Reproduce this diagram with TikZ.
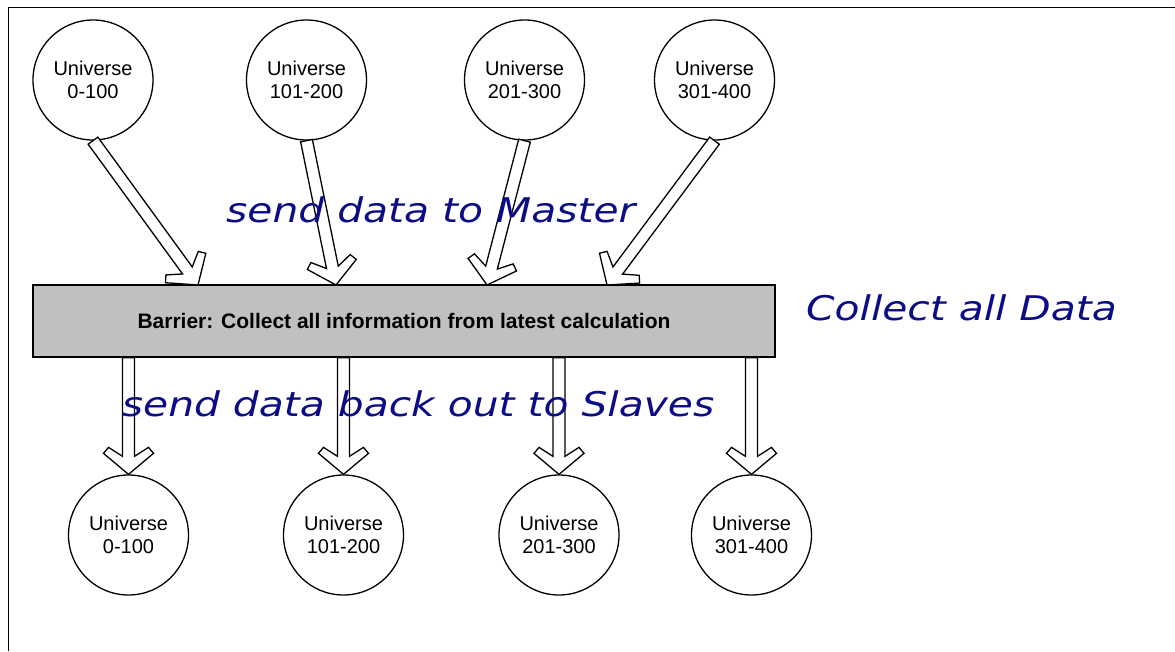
\documentclass[tikz,border=0pt]{standalone}
\usepackage{fontspec}
\setmainfont{Liberation Sans}
\newfontfamily\bluefont[FakeStretch=1.2]{DejaVu Sans}
\usetikzlibrary{calc}
\definecolor{navyblue}{RGB}{12,12,135}
\definecolor{bargray}{RGB}{192,192,192}
\tikzset{
  univ/.style={circle, draw, line width=1.3pt, fill=white, minimum size=120pt, inner sep=0pt,
    align=center, font=\fontsize{20}{23}\selectfont},
  barrier/.style={draw, line width=1.6pt, fill=bargray, minimum width=742pt, minimum height=72pt,
    inner sep=0pt, font=\fontsize{21}{24}\selectfont\bfseries},
  arrowline/.style={draw, line width=1.3pt, fill=white, line join=miter},
  bluetext/.style={text=navyblue, inner sep=0pt, anchor=base west,
    font=\bluefont\itshape\fontsize{34}{40}\selectfont},
}
\newcommand{\hollowarrow}[2]{%
  \path[arrowline] let \p1=($(#2)-(#1)$), \n1={atan2(\y1,\x1)}, \n2={veclen(\x1,\y1)} in
  [shift={(#1)}, rotate=\n1]
  (0,-6) -- (\n2-18,-6) -- (\n2-27,-20) -- (\n2-21,-25) -- (\n2,0) -- (\n2-21,25)
  -- (\n2-27,20) -- (\n2-18,6) -- (0,6) -- cycle;}
\begin{document}
\begin{tikzpicture}[x=1pt, y=-1pt]
\useasboundingbox (0,0) rectangle (1175,651);
% frame
\draw[line width=1.5pt] (8.3,651) -- (8.3,7.5) -- (1175,7.5);
% top circles
\node[univ] (u1) at (93,80) {Universe\\0-100};
\node[univ] (u2) at (306.5,80) {Universe\\101-200};
\node[univ] (u3) at (524.5,80) {Universe\\201-300};
\node[univ] (u4) at (714.5,80) {Universe\\301-400};
% bottom circles
\node[univ] (l1) at (128.5,535) {Universe\\0-100};
\node[univ] (l2) at (343.5,535) {Universe\\101-200};
\node[univ] (l3) at (559,535) {Universe\\201-300};
\node[univ] (l4) at (751.5,535) {Universe\\301-400};
% barrier
\node[barrier] (bar) at (404,321) {Barrier: Collect all information from latest calculation};
% tips on barrier
\coordinate (t1) at (198,285);
\coordinate (t2) at (336,285);
\coordinate (t3) at (487,285);
\coordinate (t4) at (607,285);
\hollowarrow{u1.south}{t1}
\hollowarrow{u2.south}{t2}
\hollowarrow{u3.south}{t3}
\hollowarrow{u4.south}{t4}
\hollowarrow{l1.north |- bar.south}{l1.north}
\hollowarrow{l2.north |- bar.south}{l2.north}
\hollowarrow{l3.north |- bar.south}{l3.north}
\hollowarrow{l4.north |- bar.south}{l4.north}
% labels
\node[bluetext] (m) at (226,222) {send data to Master};
\node[bluetext] (c) at (806,320) {Collect all Data};
\node[bluetext] (s) at (121.7,416.7) {send data back out to Slaves};
\end{tikzpicture}
\end{document}
